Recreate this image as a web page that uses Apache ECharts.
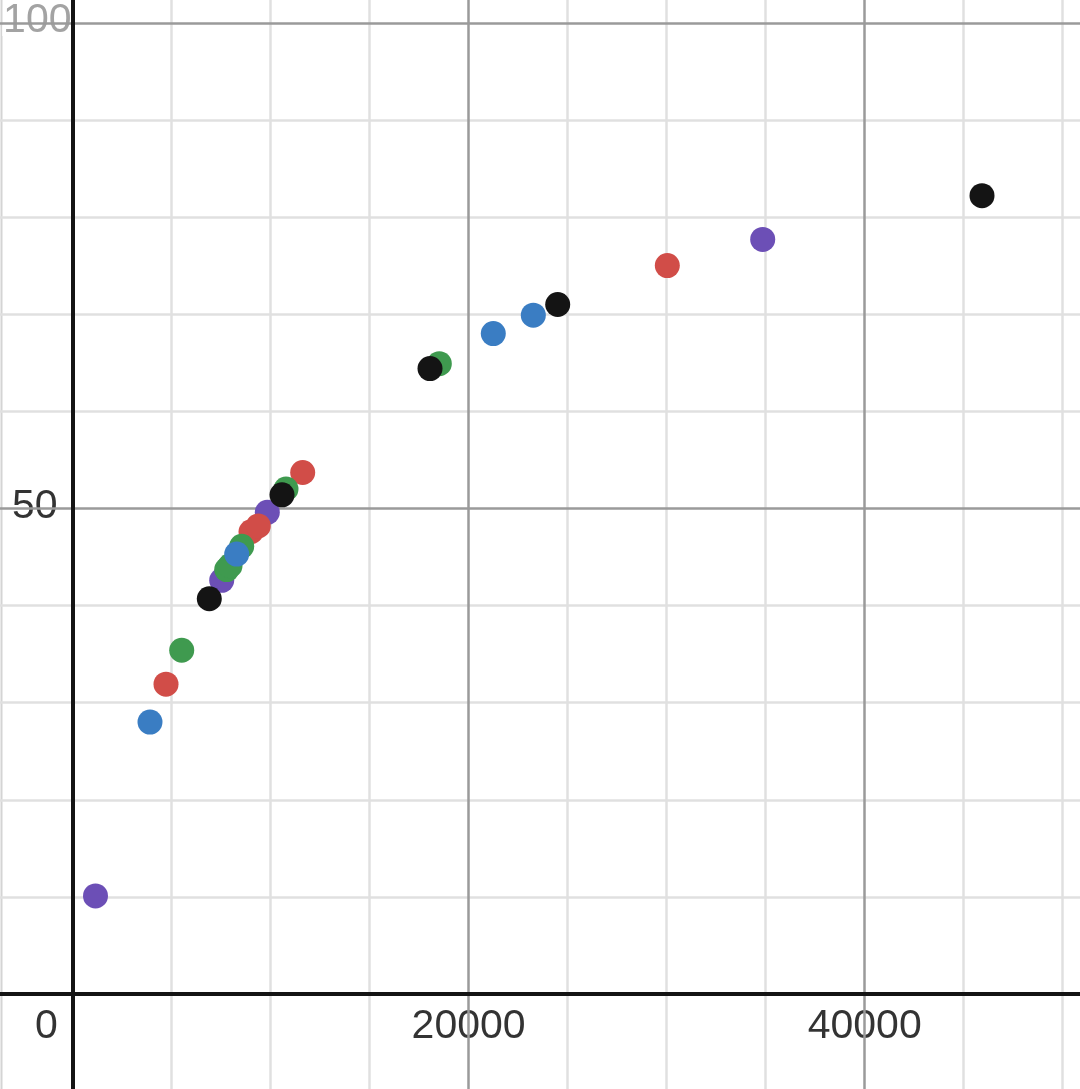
<!DOCTYPE html>
<html>
<head>
<meta charset="utf-8">
<script src="https://cdn.jsdelivr.net/npm/echarts@6/dist/echarts.min.js"></script>
<style>
html,body{margin:0;padding:0;background:#fff;}
#chart{width:1080px;height:1089px;}
</style>
</head>
<body>
<div id="chart"></div>
<script>
// ---- data (x, y) per colour group ----
const purplePts = [[1161,10.1],[7534,42.6],[9836,49.6],[34850,77.7]];
const bluePts   = [[3913,28.0],[8291,45.3],[21247,68.0],[23267,69.9]];
const redPts    = [[4721,31.9],[9013,47.6],[9381,48.2],[11623,53.7],[30033,75.0]];
const greenPts  = [[5514,35.4],[7786,43.7],[7953,44.1],[8543,46.1],[10780,52.0],[18521,64.9]];
const blackPts  = [[6907,40.7],[10578,51.4],[18051,64.4],[24499,71.0],[45923,82.2]];

// ---- axes / grid ----
const xMinorGrid = [5000,10000,15000,25000,30000,35000,45000,50000];
const xMajorGrid = [20000,40000];
const yMinorGrid = [10,20,30,40,60,70,80,90];
const yMajorGrid = [50,100];
const xTickLabels = [20000,40000];
const yTickLabels = [50];
const yEdgeLabels = [100];

const XMIN = -3661, XMAX = 50871, YMIN = -9.78, YMAX = 102.35;

const chart = echarts.init(document.getElementById('chart'));

function vLines(vals){ return vals.map(v => ({xAxis: v})); }
function hLines(vals){ return vals.map(v => ({yAxis: v})); }

const FONT = 'Liberation Sans, Arial, sans-serif';
const labelBase = {
  show: true, position: 'inside', fontFamily: FONT, fontSize: 41,
  color: '#000', textBorderColor: '#fff', textBorderWidth: 8
};

function pointSeries(name, data, color){
  return {
    type: 'scatter', name, data, symbolSize: 25, z: 10,
    itemStyle: {color: color, opacity: 1},
    silent: true
  };
}

chart.setOption({
  animation: false,
  backgroundColor: '#fff',
  grid: {left: 0, right: 0, top: 0, bottom: 0, containLabel: false},
  xAxis: {type: 'value', min: XMIN, max: XMAX, axisLine: {show: false}, axisTick: {show: false},
          axisLabel: {show: false}, splitLine: {show: false}},
  yAxis: {type: 'value', min: YMIN, max: YMAX, axisLine: {show: false}, axisTick: {show: false},
          axisLabel: {show: false}, splitLine: {show: false}},
  graphic: [{type: 'line', shape: {x1: 1.5, y1: 0, x2: 1.5, y2: 1089}, style: {stroke: '#d4d4d4', lineWidth: 2}, z: 0}],
  series: [
    // minor grid
    {type: 'scatter', data: [], z: 1, silent: true,
     markLine: {silent: true, symbol: ['none','none'], label: {show: false},
       lineStyle: {color: '#e0e0e0', width: 2.5, type: 'solid'},
       data: vLines(xMinorGrid).concat(hLines(yMinorGrid))}},
    // major grid
    {type: 'scatter', data: [], z: 2, silent: true,
     markLine: {silent: true, symbol: ['none','none'], label: {show: false},
       lineStyle: {color: '#9a9a9a', width: 2.5, type: 'solid'},
       data: vLines(xMajorGrid).concat(hLines(yMajorGrid))}},
    // x tick labels
    {type: 'scatter', symbolSize: 0, z: 3, silent: true,
     data: xTickLabels.map(v => [v, 0]),
     label: Object.assign({}, labelBase, {formatter: p => String(p.value[0]), align: 'center', verticalAlign: 'middle', offset: [0, 33]})},
    // origin label
    {type: 'scatter', symbolSize: 0, z: 3, silent: true,
     data: [[0, 0]],
     label: Object.assign({}, labelBase, {formatter: '0', align: 'center', verticalAlign: 'middle', offset: [-26, 33]})},
    // y tick labels
    {type: 'scatter', symbolSize: 0, z: 3, silent: true,
     data: yTickLabels.map(v => [0, v]),
     label: Object.assign({}, labelBase, {formatter: p => String(p.value[1]), align: 'right', verticalAlign: 'middle', offset: [-15, -2]})},
    // pinned edge label (grey)
    {type: 'scatter', symbolSize: 0, z: 3, silent: true,
     data: yEdgeLabels.map(v => [0, v]),
     label: Object.assign({}, labelBase, {color: '#8c8c8c', formatter: p => String(p.value[1]), align: 'right', verticalAlign: 'middle', offset: [-1, -2]})},
    // axes
    {type: 'scatter', data: [], z: 5, silent: true,
     markLine: {silent: true, symbol: ['none','none'], label: {show: false},
       lineStyle: {color: '#141414', width: 4, type: 'solid'},
       data: [{xAxis: 0}, {yAxis: 0}]}},
    pointSeries('purple', purplePts, '#6c4fb6'),
    pointSeries('red', redPts, '#d14d48'),
    pointSeries('green', greenPts, '#3f9a4f'),
    pointSeries('blue', bluePts, '#3a7dc3'),
    pointSeries('black', blackPts, '#141414')
  ]
});
</script>
</body>
</html>
